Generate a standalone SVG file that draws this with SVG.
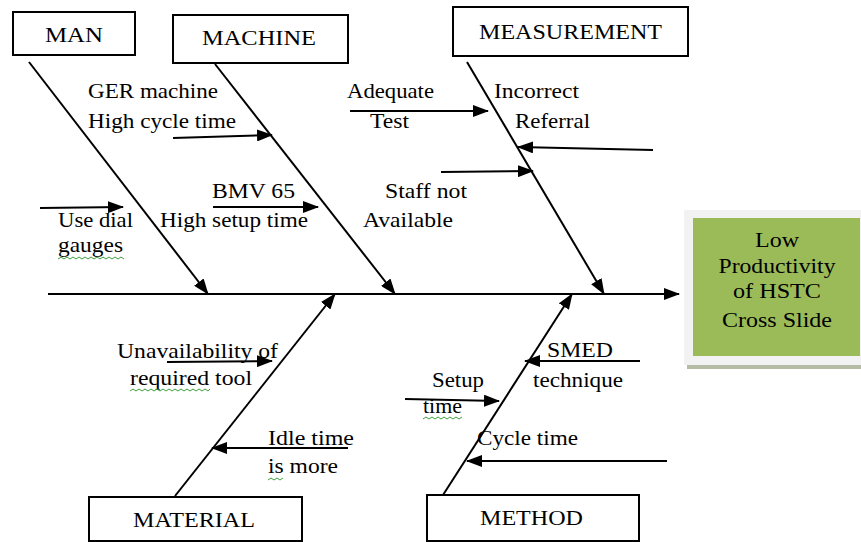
<svg xmlns="http://www.w3.org/2000/svg" width="861" height="542" viewBox="0 0 861 542">
<style>
  .box{fill:#fff;stroke:#000;stroke-width:2}
  .t{font-family:'Liberation Serif','DejaVu Serif','Noto Serif','Times New Roman',Times,serif;font-size:22px;fill:#000}
  .c{text-anchor:middle}
  .ln{stroke:#000;stroke-width:2;fill:none;marker-end:url(#ah)}
  .sq{stroke:#3aa03a;stroke-width:1;fill:none}
</style>
<defs>
  <marker id="ah" markerUnits="userSpaceOnUse" markerWidth="16" markerHeight="12" refX="15" refY="6" orient="auto" viewBox="0 0 16 12">
    <path d="M0,0 L16,6 L0,12 z" fill="#000"/>
  </marker>
</defs>
<rect width="861" height="542" fill="#fff"/>

<g id="connectors">
  <line class="ln" x1="48" y1="294" x2="679" y2="294"/>
  <line class="ln" x1="29" y1="62" x2="208" y2="294"/>
  <line class="ln" x1="215" y1="64" x2="395" y2="294"/>
  <line class="ln" x1="467" y1="62" x2="604" y2="294"/>
  <line class="ln" x1="175" y1="496" x2="335" y2="294"/>
  <line class="ln" x1="443" y1="495" x2="572" y2="294"/>
  <line class="ln" x1="173" y1="138" x2="272" y2="135"/>
  <line class="ln" x1="350" y1="111" x2="488" y2="111"/>
  <line class="ln" x1="653" y1="150" x2="518" y2="147"/>
  <line class="ln" x1="441" y1="172" x2="533" y2="171"/>
  <line class="ln" x1="40" y1="208" x2="123" y2="207"/>
  <line class="ln" x1="213" y1="207" x2="318" y2="207"/>
  <line class="ln" x1="167" y1="362" x2="272" y2="361"/>
  <line class="ln" x1="348" y1="448" x2="212" y2="448"/>
  <line class="ln" x1="640" y1="361" x2="525" y2="361"/>
  <line class="ln" x1="405" y1="399" x2="499" y2="401"/>
  <line class="ln" x1="667" y1="461" x2="467" y2="461"/>
</g>

<g id="man">
  <rect class="box" x="13" y="12" width="122" height="43"/>
  <text class="t" x="45" y="42" textLength="58" lengthAdjust="spacingAndGlyphs">MAN</text>
</g>
<g id="machine">
  <rect class="box" x="173" y="15" width="175" height="48"/>
  <text class="t" x="202" y="45" textLength="114" lengthAdjust="spacingAndGlyphs">MACHINE</text>
</g>
<g id="measurement">
  <rect class="box" x="453" y="7" width="235" height="49"/>
  <text class="t" x="479" y="39" textLength="183" lengthAdjust="spacingAndGlyphs">MEASUREMENT</text>
</g>
<g id="material">
  <rect class="box" x="89" y="497" width="213" height="44"/>
  <text class="t" x="133" y="527" textLength="122" lengthAdjust="spacingAndGlyphs">MATERIAL</text>
</g>
<g id="method">
  <rect class="box" x="427" y="495" width="212" height="46"/>
  <text class="t" x="480" y="525" textLength="103" lengthAdjust="spacingAndGlyphs">METHOD</text>
</g>

<g id="effect">
  <rect x="684" y="210" width="177" height="155" fill="#f2f2f2"/>
  <rect x="687" y="365" width="174" height="4" fill="#b5bca6"/>
  <rect x="693" y="218" width="167" height="138" fill="#9bbb59"/>
  <text class="t c" x="777" y="247" textLength="44" lengthAdjust="spacingAndGlyphs">Low</text>
  <text class="t c" x="777" y="273" textLength="117" lengthAdjust="spacingAndGlyphs">Productivity</text>
  <text class="t c" x="777" y="298" textLength="88" lengthAdjust="spacingAndGlyphs">of HSTC</text>
  <text class="t c" x="777" y="327" textLength="110" lengthAdjust="spacingAndGlyphs">Cross Slide</text>
</g>

<g id="cause-labels">
  <text class="t" x="88" y="98" textLength="130" lengthAdjust="spacingAndGlyphs">GER machine</text>
  <text class="t" x="88" y="128" textLength="148" lengthAdjust="spacingAndGlyphs">High cycle time</text>
  <text class="t" x="347" y="98" textLength="87" lengthAdjust="spacingAndGlyphs">Adequate</text>
  <text class="t" x="370" y="128" textLength="39" lengthAdjust="spacingAndGlyphs">Test</text>
  <text class="t" x="494" y="98" textLength="85" lengthAdjust="spacingAndGlyphs">Incorrect</text>
  <text class="t" x="515" y="128" textLength="75" lengthAdjust="spacingAndGlyphs">Referral</text>
  <text class="t" x="212" y="198" textLength="83" lengthAdjust="spacingAndGlyphs">BMV 65</text>
  <text class="t" x="385" y="198" textLength="82" lengthAdjust="spacingAndGlyphs">Staff not</text>
  <text class="t" x="58" y="227" textLength="75" lengthAdjust="spacingAndGlyphs">Use dial</text>
  <text class="t" x="58" y="252" textLength="65" lengthAdjust="spacingAndGlyphs">gauges</text>
  <text class="t" x="160" y="227" textLength="148" lengthAdjust="spacingAndGlyphs">High setup time</text>
  <text class="t" x="363" y="227" textLength="90" lengthAdjust="spacingAndGlyphs">Available</text>
  <text class="t" x="117" y="358" textLength="161" lengthAdjust="spacingAndGlyphs">Unavailability of</text>
  <text class="t" x="130" y="385" textLength="122" lengthAdjust="spacingAndGlyphs">required tool</text>
  <text class="t" x="268" y="445" textLength="86" lengthAdjust="spacingAndGlyphs">Idle time</text>
  <text class="t" x="268" y="473" textLength="70" lengthAdjust="spacingAndGlyphs">is more</text>
  <text class="t" x="547" y="357" textLength="66" lengthAdjust="spacingAndGlyphs">SMED</text>
  <text class="t" x="533" y="387" textLength="90" lengthAdjust="spacingAndGlyphs">technique</text>
  <text class="t" x="432" y="387" textLength="52" lengthAdjust="spacingAndGlyphs">Setup</text>
  <text class="t" x="423" y="413" textLength="39" lengthAdjust="spacingAndGlyphs">time</text>
  <text class="t" x="477" y="445" textLength="101" lengthAdjust="spacingAndGlyphs">Cycle time</text>
</g>

<g id="spellcheck-marks">
  <polyline class="sq" points="58,259 61,257 64,259 67,257 70,259 73,257 76,259 79,257 82,259 85,257 88,259 91,257 94,259 97,257 100,259 103,257 106,259 109,257 112,259 115,257 118,259 121,257 124,259"/>
  <polyline class="sq" points="130,391 133,389 136,391 139,389 142,391 145,389 148,391 151,389 154,391 157,389 160,391 163,389 166,391 169,389 172,391 175,389 178,391 181,389 184,391 187,389 190,391 193,389 196,391 199,389 202,391 205,389 208,391 210,389"/>
  <polyline class="sq" points="423,419 426,417 429,419 432,417 435,419 438,417 441,419 444,417 447,419 450,417 453,419 456,417 459,419 462,417"/>
  <polyline class="sq" points="268,480 271,478 274,480 277,478 280,480 283,478"/>
</g>
</svg>
